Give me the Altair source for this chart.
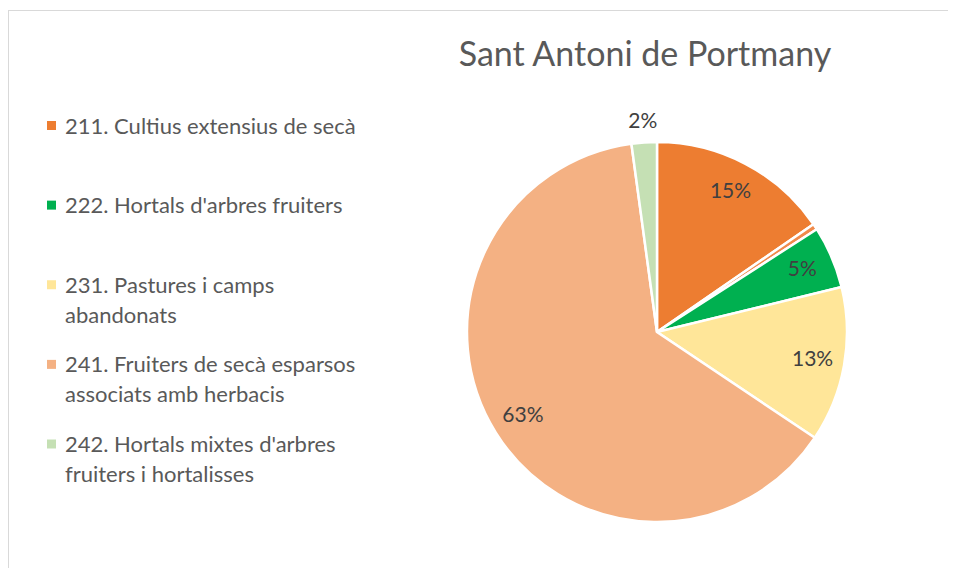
import altair as alt
import pandas as pd

# ---- data ----
title_text = "Sant Antoni de Portmany"
categories = [
    "211. Cultius extensius de secà",
    "Altres",
    "222. Hortals d'arbres fruiters",
    "231. Pastures i camps abandonats",
    "241. Fruiters de secà esparsos associats amb herbacis",
    "242. Hortals mixtes d'arbres fruiters i hortalisses",
]
values = [15.4, 0.5, 5.3, 13.2, 63.45, 2.15]
colors = ["#ED7D31", "#F08A4B", "#00B050", "#FFE699", "#F4B183", "#C5E0B4"]

legend_categories = [categories[0], categories[2], categories[3], categories[4], categories[5]]
legend_labels = [
    "211. Cultius extensius de secà",
    "222. Hortals d'arbres fruiters",
    "231. Pastures i camps|abandonats",
    "241. Fruiters de secà esparsos|associats amb herbacis",
    "242. Hortals mixtes d'arbres|fruiters i hortalisses",
]

df = pd.DataFrame({"cat": categories, "value": values, "idx": list(range(len(categories)))})
legend_df = pd.DataFrame({"cat": legend_categories, "label": legend_labels})

W, H = 940, 560
CX, CY, R = 649, 324, 190
FONT = "Lato"

color_scale = alt.Scale(domain=categories, range=colors)

arcs = alt.Chart(df).mark_arc(radius=R, stroke="white", strokeWidth=2.5).encode(
    theta=alt.Theta("value:Q", stack=True),
    color=alt.Color("cat:N", scale=color_scale, legend=None),
    order=alt.Order("idx:Q"),
    x=alt.value(CX),
    y=alt.value(CY),
)

labels = alt.Chart(df).transform_joinaggregate(
    total="sum(value)"
).transform_window(
    cum="sum(value)", sort=[alt.SortField("idx")], frame=[None, 0]
).transform_calculate(
    mid="2 * PI * (datum.cum - datum.value / 2) / datum.total",
    lab="datum.value / datum.total >= 0.01 ? format(datum.value / datum.total, '.0%') : ''",
    lr="datum.value / datum.total < 0.03 ? 210 : 158",
).mark_text(font=FONT, fontSize=21, color="#404040").encode(
    theta=alt.Theta("mid:Q", scale=None, stack=False),
    radius=alt.Radius("lr:Q", scale=None),
    text="lab:N",
    x=alt.value(CX),
    y=alt.value(CY),
)

leg_y = alt.Y("cat:N", scale=alt.Scale(type="point", domain=legend_categories, range=[117.5, 436], padding=0), axis=None)

leg_sq = alt.Chart(legend_df).mark_square(size=81, opacity=1).encode(
    x=alt.value(43.5),
    y=leg_y,
    color=alt.Color("cat:N", scale=color_scale, legend=None),
)

leg_txt = alt.Chart(legend_df).mark_text(
    font=FONT, fontSize=22, color="#595959", align="left", baseline="alphabetic",
    dy=8, lineBreak="|", lineHeight=30,
).encode(
    x=alt.value(57),
    y=leg_y,
    text="label:N",
)

title = alt.Chart(pd.DataFrame({"t": [title_text]})).mark_text(
    font=FONT, fontSize=34, color="#595959", align="center", baseline="alphabetic"
).encode(x=alt.value(637), y=alt.value(58), text="t:N")

border_df = pd.DataFrame({"b": [0]})
top_border = alt.Chart(border_df).mark_rule(color="#D9D9D9", strokeWidth=1).encode(
    x=alt.value(0), x2=alt.value(W), y=alt.value(2.5)
)
left_border = alt.Chart(border_df).mark_rule(color="#D9D9D9", strokeWidth=1).encode(
    x=alt.value(0.5), y=alt.value(2), y2=alt.value(H)
)

chart = alt.layer(top_border, left_border, arcs, labels, leg_sq, leg_txt, title).properties(
    width=W, height=H, autosize=alt.AutoSizeParams(type="none"), padding=0,
    background="white",
).configure_view(stroke=None)

chart.save("out.html", embed_options={"renderer": "svg", "actions": False})
